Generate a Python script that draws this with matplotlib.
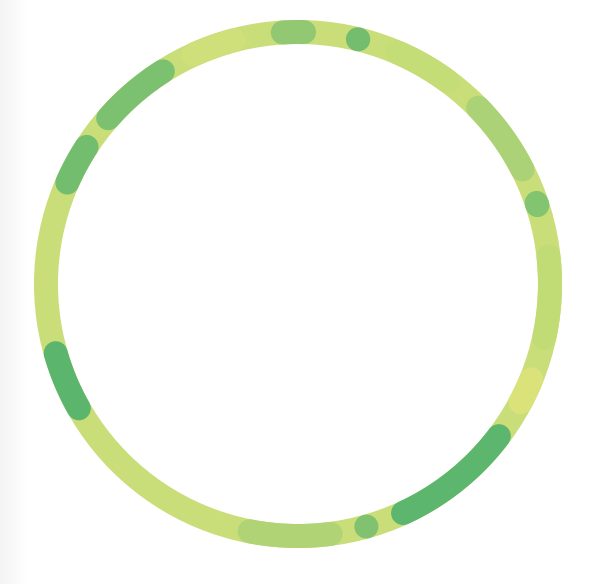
import numpy as np
import matplotlib
matplotlib.use("Agg")
import matplotlib.pyplot as plt
from matplotlib.patches import Wedge

# segments on the ring: angles in degrees, clockwise from 12 o'clock
seg_start = [-6.2, 11.1, 20.4, 42.9, 68.5, 81.0, 109.5, 124.4, 161.5, 169.8, 237.7, 291.0, 308.4, 332.9]
seg_end = [4.1, 16.5, 39.3, 65.7, 74.5, 105.0, 120.7, 158.1, 167.0, 193.8, 256.8, 305.7, 330.3, 348.0]
seg_colors = ["#93c873", "#74bd6f", "#c5dd76", "#acd277", "#82c46f", "#c2dc75", "#dbe27a",
              "#5cb66d", "#80c26f", "#b0d475", "#5bb56d", "#73bd6f", "#7bc16f", "#cfe07a"]
base_color = "#c9de78"

W, H = 610, 584
cx, cy = 298, 284
r_out, width = 264, 24
r_mid = r_out - width / 2

fig = plt.figure(figsize=(W / 100, H / 100), dpi=100)
ax = fig.add_axes([0, 0, 1, 1])
ax.set_xlim(0, W)
ax.set_ylim(H, 0)
ax.set_aspect("equal")
ax.axis("off")

# faint shadow on the left edge
grad = np.linspace(0, 1, 64).reshape(1, -1)
ax.imshow(grad, extent=(0, 28, H, 0), cmap=matplotlib.colors.LinearSegmentedColormap.from_list("sh", ["#f4f4f4", "#ffffff"]),
          aspect="auto", zorder=0)

# base ring
ax.add_patch(Wedge((cx, cy), r_out, 0, 360, width=width, color=base_color, lw=0, zorder=1))

lw_pt = width * 72 / 100
cap = np.degrees((width / 2) / r_mid)
for s, e, c in zip(seg_start, seg_end, seg_colors):
    a0, a1 = s + cap, e - cap
    if a1 <= a0:
        m = (s + e) / 2
        a0, a1 = m - 0.05, m + 0.05
    th = np.radians(np.linspace(a0, a1, 100))
    xs = cx + r_mid * np.sin(th)
    ys = cy - r_mid * np.cos(th)
    ax.plot(xs, ys, color=c, lw=lw_pt, solid_capstyle="round", zorder=2)

fig.savefig("out.png", dpi=100, facecolor="white")
